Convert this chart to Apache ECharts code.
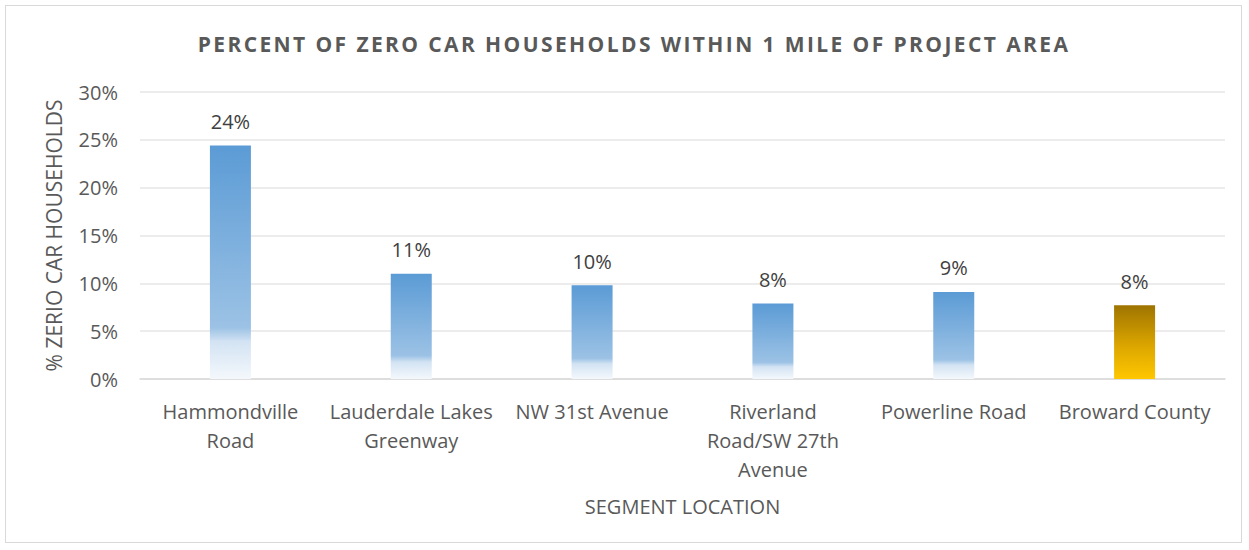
<!DOCTYPE html>
<html>
<head>
<meta charset="utf-8">
<script src="https://cdn.jsdelivr.net/npm/echarts@6/dist/echarts.min.js"></script>
<style>
  html, body { margin: 0; padding: 0; background: #fff; }
  #frame {
    position: absolute; left: 5px; top: 5px; width: 1237px; height: 538px;
    border: 1px solid #d9d9d9; box-sizing: border-box;
  }
  #chart { position: absolute; left: 0; top: 0; width: 1249px; height: 550px; }
</style>
</head>
<body>
<div id="frame"></div>
<div id="chart"></div>
<script>
// data
var segments = [
  'Hammondville\nRoad',
  'Lauderdale Lakes\nGreenway',
  'NW 31st Avenue',
  'Riverland\nRoad/SW 27th\nAvenue',
  'Powerline Road',
  'Broward County'
];
var zeroCarShare = [0.244, 0.110, 0.098, 0.079, 0.091, 0.077];
var isCounty = [false, false, false, false, false, true];

var titleText = 'PERCENT OF ZERO CAR HOUSEHOLDS WITHIN 1 MILE OF PROJECT AREA';

var blueFill = new echarts.graphic.LinearGradient(0, 0, 0, 1, [
  { offset: 0, color: '#5b9bd5' },
  { offset: 0.78, color: '#9cc2e5' },
  { offset: 0.84, color: '#d3e3f3' },
  { offset: 1, color: '#f4f8fc' }
]);
var goldFill = new echarts.graphic.LinearGradient(0, 0, 0, 1, [
  { offset: 0, color: '#9e7400' },
  { offset: 0.55, color: '#dca600' },
  { offset: 1, color: '#ffc700' }
]);

var chart = echarts.init(document.getElementById('chart'), null, { renderer: 'svg' });
var font = '"Open Sans", sans-serif';

var option = {
  animation: false,
  textStyle: { fontFamily: font },
  title: {
    text: titleText,
    left: 629,
    top: 28,
    textAlign: 'center',
    textStyle: { fontFamily: font, fontSize: 21, fontWeight: 'bold', color: '#595959' }
  },
  grid: { left: 140, right: 24, top: 92, bottom: 171 },
  xAxis: {
    type: 'category',
    data: segments,
    name: 'SEGMENT LOCATION',
    nameLocation: 'middle',
    nameGap: 117,
    nameTextStyle: { fontFamily: font, fontSize: 20, color: '#595959' },
    axisTick: { show: false },
    axisLine: { lineStyle: { color: '#d9d9d9', width: 1.5 } },
    axisLabel: {
      interval: 0, margin: 18, fontSize: 20, color: '#595959', lineHeight: 29,
      fontFamily: font
    }
  },
  yAxis: {
    type: 'value',
    min: 0,
    max: 0.30,
    interval: 0.05,
    name: '% ZERIO CAR HOUSEHOLDS',
    nameLocation: 'middle',
    nameGap: 76,
    nameRotate: 90,
    nameTextStyle: { fontFamily: font, fontSize: 21, color: '#595959' },
    axisLine: { show: false },
    axisTick: { show: false },
    splitLine: { lineStyle: { color: '#e6e6e6', width: 1.5 } },
    axisLabel: {
      fontSize: 20, color: '#595959', margin: 22, fontFamily: font,
      formatter: function (v) { return Math.round(v * 100) + '%'; }
    }
  },
  series: [{
    type: 'bar',
    barWidth: 41,
    data: zeroCarShare.map(function (v, i) {
      return { value: v, itemStyle: { color: isCounty[i] ? goldFill : blueFill } };
    }),
    label: {
      show: true,
      position: 'top',
      distance: 14,
      fontSize: 20,
      color: '#404040',
      fontFamily: font,
      formatter: function (p) { return Math.round(p.value * 100) + '%'; }
    }
  }]
};
chart.setOption(option);

// the original title has wider character spacing
document.querySelectorAll('#chart text').forEach(function (t) {
  if (t.textContent === titleText) {
    t.setAttribute('letter-spacing', '2.4px');
    t.setAttribute('text-anchor', 'start');
    var w = t.getComputedTextLength();
    var x = parseFloat(t.getAttribute('x') || 0);
    t.setAttribute('x', x - w / 2);
  }
});
</script>
</body>
</html>
